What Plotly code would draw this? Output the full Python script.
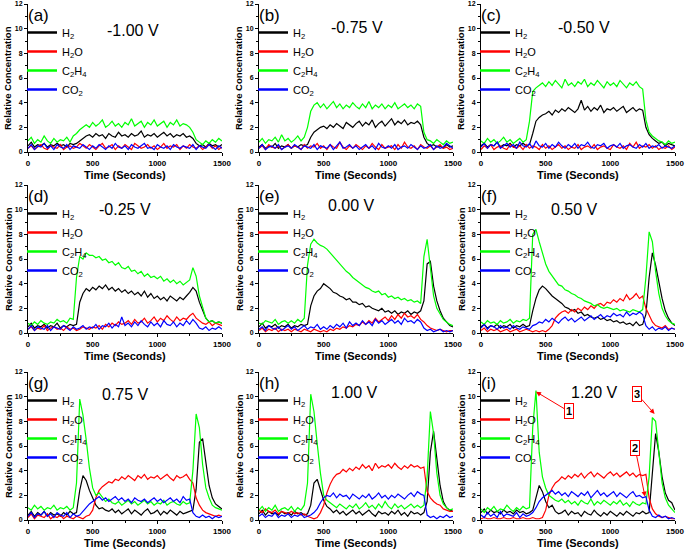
import numpy as np
import plotly.graph_objects as go

# ---------------- data (one sample per 25 s, 0..1500 s) -------------
T_MAX = 1500
PANEL_LETTERS = ["(a)", "(b)", "(c)", "(d)", "(e)", "(f)", "(g)", "(h)", "(i)"]
VOLTAGES = ["-1.00 V", "-0.75 V", "-0.50 V", "-0.25 V", "0.00 V", "0.50 V", "0.75 V", "1.00 V", "1.20 V"]
SPECIES = ["H<sub>2</sub>", "H<sub>2</sub>O", "C<sub>2</sub>H<sub>4</sub>", "CO<sub>2</sub>"]
X_TICKS = [0, 500, 1000, 1500]
Y_TICKS = [0, 2, 4, 6, 8, 10, 12]

# (a) -1.00 V
H2_a = [0.5,0.8,0.4,0.6,0.5,0.7,0.4,0.6,0.5,0.7,
        0.5,0.6,0.4,0.7,0.6,0.7,0.9,1.1,1.3,1.4,
        1.2,1.5,1.3,1.4,1.1,1.5,1.3,1.2,1.6,1.3,
        1.4,1.2,1.5,1.3,1.4,1.7,1.2,1.4,1.3,1.5,
        1.2,1.4,1.6,1.3,1.5,1.2,1.4,1.3,1.5,1.2,
        1.3,1.1,0.7,0.5,0.6,0.4,0.7,0.5,0.6,0.4,
        0.6]
H2O_a = [0.3,0.5,0.2,0.4,0.6,0.3,0.2,0.5,0.4,0.3,
         0.6,0.2,0.4,0.5,0.3,0.4,0.7,0.5,0.3,0.6,
         0.4,0.2,0.5,0.7,0.3,0.4,0.6,0.2,0.5,0.3,
         0.6,0.4,0.2,0.7,0.5,0.3,0.4,0.6,0.3,0.5,
         0.2,0.4,0.7,0.3,0.5,0.4,0.6,0.2,0.5,0.3,
         0.6,0.4,0.3,0.5,0.2,0.4,0.6,0.3,0.5,0.2,
         0.4]
C2H4_a = [0.9,1.2,0.7,1.0,0.8,1.3,0.9,0.7,1.1,0.8,
          1.0,0.9,1.2,0.8,1.3,1.5,1.8,2.0,2.2,2.0,
          2.4,2.1,2.3,2.6,2.0,2.2,2.5,2.1,2.3,2.0,
          2.4,2.2,2.7,2.1,2.3,2.5,2.0,2.4,2.2,2.6,
          2.1,2.3,2.5,2.0,2.4,2.2,2.6,2.1,2.3,2.2,
          2.0,1.6,1.0,0.8,0.6,0.9,0.7,1.0,0.8,1.1,
          0.9]
CO2_a = [0.3,0.6,0.2,0.5,0.4,0.7,0.3,0.5,0.2,0.6,
         0.4,0.3,0.6,0.2,0.5,0.4,0.3,0.6,0.4,0.2,
         0.5,0.3,0.6,0.4,0.2,0.5,0.3,0.7,0.4,0.3,
         0.5,0.2,0.6,0.4,0.3,0.5,0.7,0.3,0.4,0.2,
         0.6,0.4,0.3,0.5,0.2,0.6,0.4,0.3,0.5,0.4,
         0.3,0.6,0.2,0.5,0.4,0.3,0.6,0.4,0.2,0.5,
         0.3]

# (b) -0.75 V
H2_b = [0.4,0.6,0.3,0.5,0.4,0.7,0.3,0.5,0.4,0.6,
        0.3,0.5,0.4,0.6,0.5,0.6,1.2,1.6,1.8,2.0,
        2.1,1.9,2.2,2.0,2.3,2.1,1.9,2.4,2.2,2.0,
        2.3,2.5,2.1,2.4,2.2,2.6,2.0,2.3,2.5,2.1,
        2.4,2.7,2.2,2.5,2.3,2.6,2.2,2.4,2.3,2.5,
        2.2,1.2,0.7,0.5,0.6,0.4,0.5,0.3,0.6,0.4,
        0.5]
H2O_b = [0.3,0.5,0.2,0.6,0.4,0.3,0.5,0.2,0.4,0.6,
         0.3,0.5,0.4,0.2,0.6,0.3,0.5,0.4,0.7,0.3,
         0.5,0.2,0.6,0.4,0.3,0.8,0.4,0.2,0.5,0.3,
         0.6,0.4,0.2,0.5,0.3,0.7,0.4,0.2,0.6,0.3,
         0.4,0.5,0.2,0.6,0.3,0.8,0.4,0.3,0.5,0.2,
         0.6,0.4,0.3,0.5,0.2,0.4,0.6,0.3,0.4,0.2,
         0.3]
C2H4_b = [0.8,1.1,0.7,1.0,0.9,1.2,0.8,1.4,0.9,1.1,
          0.8,1.0,1.3,0.9,1.2,2.0,3.3,3.8,4.0,3.6,
          3.9,3.5,3.8,4.1,3.6,3.9,3.5,3.8,3.6,4.0,
          3.7,3.5,3.9,3.6,4.1,3.5,3.8,3.6,3.9,3.5,
          3.8,3.6,4.0,3.5,3.7,3.9,3.6,3.8,3.5,3.9,
          3.7,1.6,1.0,0.9,0.7,1.0,0.8,0.6,0.9,0.7,
          0.8]
CO2_b = [0.3,0.6,0.2,0.4,0.5,0.3,0.6,0.2,0.4,0.5,
         0.3,0.6,0.4,0.2,0.5,0.4,0.3,0.6,0.2,0.5,
         0.4,0.3,0.6,0.2,0.5,0.8,0.3,0.4,0.6,0.3,
         0.5,0.2,0.4,0.6,0.3,0.5,0.2,0.7,0.4,0.3,
         0.5,0.3,0.6,0.2,0.4,0.5,0.3,0.6,0.4,0.2,
         0.5,0.3,0.4,0.6,0.2,0.5,0.3,0.4,0.7,0.5,
         0.3]

# (c) -0.50 V
H2_c = [0.5,0.7,0.4,0.6,0.5,0.8,0.4,0.6,0.5,0.7,
        0.4,0.6,0.5,0.7,0.5,0.6,1.5,2.5,2.8,3.0,
        3.1,3.3,3.0,3.4,3.2,3.5,3.3,3.6,3.4,3.2,
        3.5,4.2,3.4,3.7,3.3,3.6,3.4,3.8,3.2,3.5,
        3.4,3.6,3.3,3.5,3.7,3.2,3.4,3.6,3.3,3.5,
        3.4,2.0,1.4,1.1,0.9,0.7,0.8,0.5,0.7,0.6,
        0.5]
H2O_c = [0.2,0.5,0.3,0.6,0.2,0.4,0.5,0.3,0.2,0.6,
         0.4,0.3,0.5,0.2,0.6,0.3,0.5,0.4,0.2,0.6,
         0.3,0.5,0.2,0.4,0.6,0.3,0.5,0.2,0.4,0.3,
         0.6,0.2,0.4,0.5,0.3,0.6,0.2,0.4,0.5,0.3,
         0.2,0.6,0.4,0.3,0.5,0.2,0.7,0.4,0.8,0.3,
         0.5,0.4,0.6,0.3,0.5,0.2,0.4,0.3,0.5,0.2,
         0.4]
C2H4_c = [0.9,0.7,1.1,0.8,1.0,0.7,0.9,1.2,0.8,1.0,
          0.7,0.9,1.1,0.8,1.0,2.5,4.9,5.2,5.4,5.6,
          5.3,5.7,5.4,5.8,5.5,5.2,5.9,5.4,5.6,5.3,
          5.7,5.5,5.9,5.3,5.6,5.4,5.8,5.5,5.2,5.7,
          5.4,5.6,5.3,5.8,5.5,5.2,5.6,5.4,5.7,5.3,
          5.1,2.6,1.6,1.3,1.1,0.9,0.8,0.6,0.9,0.7,
          0.8]
CO2_c = [0.4,0.7,0.3,0.6,0.5,0.8,0.3,0.5,0.7,0.4,
         0.6,0.3,0.8,0.5,0.4,0.7,0.3,0.9,0.5,0.4,
         0.7,0.3,0.6,0.4,0.8,0.5,0.3,0.6,0.4,0.7,
         0.3,0.6,0.5,0.8,0.4,0.3,0.6,0.5,0.7,0.3,
         0.5,0.6,0.4,0.7,0.3,0.5,0.6,0.4,0.3,0.6,
         0.4,0.7,0.3,0.5,0.4,0.6,0.3,0.5,0.4,0.3,
         0.5]

# (d) -0.25 V
H2_d = [0.5,0.8,0.4,0.6,0.5,0.7,0.4,0.6,0.5,0.8,
        0.4,0.6,0.5,0.7,0.6,0.7,2.5,3.2,3.6,3.4,
        3.7,3.5,3.8,3.6,3.9,3.5,3.7,3.4,3.6,3.3,
        3.5,3.2,3.4,3.1,3.3,3.0,3.4,2.9,3.2,2.8,
        3.0,2.7,2.9,2.6,3.0,2.8,2.6,2.9,2.7,3.0,
        3.3,3.7,3.4,2.5,1.8,1.2,0.9,1.0,0.8,0.9,
        0.8]
H2O_d = [0.3,0.5,0.2,0.4,0.3,0.6,0.2,0.4,0.5,0.3,
         0.4,0.2,0.5,0.3,0.4,0.2,0.3,0.5,0.4,0.3,
         0.5,0.4,0.6,0.3,0.7,0.5,0.8,0.6,0.9,0.7,
         0.8,1.0,0.7,1.1,0.8,0.9,1.2,0.8,1.0,1.3,
         0.9,1.2,1.0,1.4,1.1,0.9,1.3,1.0,1.2,1.1,
         1.4,1.6,1.2,1.0,0.8,0.7,0.9,0.6,0.8,0.7,
         0.6]
C2H4_d = [0.8,0.6,0.9,0.7,1.0,0.8,0.7,0.9,0.8,1.1,
          0.9,1.0,0.8,1.2,1.1,4.5,6.2,6.0,6.5,6.3,
          6.3,6.1,6.2,5.9,6.0,5.7,5.8,5.5,5.7,5.3,
          5.2,5.4,5.0,5.1,4.8,5.0,4.6,4.8,4.5,4.6,
          4.4,4.6,4.2,4.4,4.1,4.3,4.0,4.2,3.9,4.1,
          4.3,5.3,4.6,3.0,2.0,1.2,0.9,1.0,0.8,0.9,
          0.8]
CO2_d = [0.3,0.6,0.2,0.5,0.4,0.3,0.6,0.2,0.5,0.4,
         0.3,0.6,0.4,0.2,0.5,0.3,0.4,0.6,0.3,0.5,
         0.4,0.7,0.3,0.6,0.5,0.8,0.4,0.7,0.5,1.3,
         0.6,0.8,0.5,0.9,0.6,1.0,0.7,0.5,0.9,0.6,
         0.8,0.5,1.0,0.7,0.6,0.9,0.5,0.8,0.6,1.0,
         0.7,1.1,0.8,0.4,0.3,0.5,0.2,0.4,0.3,0.5,
         0.3]

# (e) 0.00 V
H2_e = [0.5,0.8,0.4,0.6,0.5,0.7,0.4,0.6,0.5,0.7,
        0.4,0.6,0.5,0.7,0.6,0.7,2.2,3.0,3.4,3.6,
        4.0,3.8,3.6,3.3,3.2,3.0,2.9,2.7,2.8,2.5,
        2.5,2.3,2.4,2.1,2.2,2.0,1.9,1.8,2.0,1.7,
        1.8,1.6,1.8,1.5,1.7,1.6,1.8,1.5,1.7,1.6,
        1.8,2.6,5.6,5.8,3.8,2.6,1.8,1.2,0.9,0.6,
        0.5]
H2O_e = [0.2,0.4,0.1,0.3,0.2,0.4,0.1,0.3,0.2,0.3,
         0.1,0.3,0.2,0.1,0.3,0.2,0.1,0.3,0.2,0.1,
         0.2,0.1,0.3,0.2,0.4,0.3,0.5,0.4,0.6,0.5,
         0.7,0.6,0.9,0.7,1.0,0.8,1.2,0.9,1.1,1.3,
         1.0,1.4,1.1,1.5,1.2,1.6,1.3,1.4,1.2,1.5,
         1.1,0.9,0.6,0.4,0.3,0.2,0.3,0.2,0.1,0.2,
         0.2]
C2H4_e = [0.8,0.7,1.0,0.9,0.8,1.1,0.7,0.9,1.0,0.8,
          1.0,0.8,1.1,0.9,1.2,5.5,7.2,7.6,7.3,7.1,
          7.0,6.8,6.5,6.2,5.9,5.6,5.3,5.0,4.8,4.5,
          4.3,4.1,3.9,3.7,3.6,3.4,3.3,3.4,3.1,3.2,
          2.9,3.0,2.8,2.9,2.7,2.8,2.6,2.7,2.5,2.6,
          2.4,6.2,7.6,5.2,3.0,2.0,1.5,1.1,0.9,0.7,
          0.6]
CO2_e = [0.3,0.5,0.2,0.6,0.4,0.3,0.5,0.2,0.4,0.6,
         0.3,0.5,0.2,0.4,0.6,0.3,0.5,0.4,0.7,0.3,
         0.5,0.3,0.6,0.4,0.7,0.5,0.8,0.4,0.9,0.6,
         0.8,0.6,1.0,0.7,0.9,0.6,1.1,0.8,1.0,0.7,
         0.9,1.1,0.8,1.0,0.7,1.2,0.9,1.0,0.8,1.1,
         0.9,0.4,0.2,0.3,0.1,0.2,0.3,0.1,0.2,0.1,
         0.2]

# (f) 0.50 V
H2_f = [0.5,0.7,0.4,0.6,0.5,0.7,0.4,0.6,0.5,0.7,
        0.4,0.6,0.5,0.7,0.5,0.6,1.8,2.8,3.5,3.8,
        3.6,3.3,3.0,2.8,2.6,2.4,2.1,2.0,1.8,1.9,
        1.6,1.7,1.4,1.5,1.3,1.2,1.3,1.1,1.2,1.0,
        1.1,0.9,1.0,0.8,0.9,0.7,0.8,0.6,0.9,0.6,
        0.7,1.5,4.5,6.5,5.5,4.0,2.8,1.8,1.2,0.8,
        0.6]
H2O_f = [0.2,0.4,0.1,0.3,0.2,0.3,0.1,0.2,0.3,0.1,
         0.2,0.3,0.1,0.2,0.3,0.2,0.1,0.2,0.1,0.2,
         0.1,0.3,0.6,1.2,1.5,1.7,1.8,1.6,1.9,1.7,
         2.0,1.8,2.1,1.9,2.2,2.0,2.3,2.4,2.2,2.5,
         2.4,2.7,2.5,2.8,2.6,3.1,2.7,2.9,3.2,2.8,
         3.0,2.0,1.4,0.9,0.6,0.5,0.4,0.6,0.3,0.4,
         0.3]
C2H4_f = [0.9,0.7,1.0,0.8,0.9,0.7,1.0,0.8,0.9,1.1,
          0.8,1.0,0.9,1.1,1.0,1.2,8.0,8.4,7.4,6.5,
          5.6,5.0,4.6,4.2,3.9,3.8,3.5,3.4,3.2,3.1,
          2.9,2.8,2.6,2.5,2.4,2.2,2.3,2.1,2.0,2.1,
          2.0,1.9,2.0,1.8,1.9,1.8,1.7,1.9,1.8,1.7,
          1.9,4.5,8.2,7.4,5.0,3.2,2.0,1.4,1.0,0.8,
          0.7]
CO2_f = [0.4,0.7,0.3,0.6,0.5,0.3,0.6,0.4,0.5,0.3,
         0.6,0.4,0.3,0.5,0.4,0.3,0.6,0.7,0.9,0.8,
         1.1,0.9,1.2,1.0,0.8,1.1,1.3,1.0,1.2,0.9,
         1.1,1.3,1.0,1.2,1.4,1.1,1.3,1.5,1.2,1.4,
         1.3,1.6,1.4,1.5,1.3,1.7,1.4,1.6,1.5,1.7,
         1.5,0.6,0.3,0.5,0.2,0.4,0.3,0.5,0.2,0.4,
         0.3]

# (g) 0.75 V
H2_g = [0.4,0.7,0.3,0.6,0.4,0.7,0.3,0.6,0.4,0.5,
        0.3,0.6,0.4,0.7,0.5,0.6,2.4,3.6,3.2,2.4,
        1.8,1.2,0.9,1.0,0.8,0.7,0.9,0.6,0.8,0.5,
        0.7,0.9,0.5,0.8,0.6,0.4,0.7,0.9,0.5,0.6,
        0.8,0.4,0.7,0.5,0.8,0.6,0.4,0.7,0.5,0.6,
        0.7,0.8,2.5,6.3,6.6,4.5,2.8,1.8,1.3,1.1,
        0.9]
H2O_g = [0.2,0.5,0.1,0.4,0.3,0.2,0.5,0.1,0.3,0.2,
         0.4,0.1,0.3,0.2,0.1,0.3,0.2,0.1,0.3,0.4,
         0.8,1.8,2.4,2.7,2.9,3.1,3.0,3.3,3.2,3.5,
         3.3,3.6,3.4,3.2,3.6,3.4,3.7,3.3,3.5,3.4,
         3.6,3.3,3.5,3.7,3.4,3.2,3.6,3.4,3.5,3.7,
         3.3,3.0,1.8,1.2,0.8,0.6,0.5,0.4,0.3,0.4,
         0.3]
C2H4_g = [1.0,0.8,1.2,0.9,1.1,0.8,1.0,0.9,1.2,0.8,
          1.0,0.9,1.1,0.8,1.0,3.0,9.8,8.5,6.5,4.2,
          2.6,2.0,2.2,1.8,1.5,1.7,1.4,1.3,1.5,1.2,
          1.4,1.6,1.3,1.5,1.2,1.4,1.6,1.3,1.5,1.2,
          1.4,1.3,1.6,1.2,1.4,1.5,1.3,1.2,1.5,1.3,
          1.4,4.0,8.6,7.5,4.5,2.6,1.8,1.2,1.0,0.9,
          0.8]
CO2_g = [0.3,0.6,0.2,0.5,0.4,0.7,0.3,0.5,0.2,0.6,
         0.4,0.3,0.6,0.2,0.5,0.3,0.4,0.7,1.0,1.3,
         1.5,1.7,1.9,1.6,1.8,1.5,1.7,1.9,1.6,1.8,
         1.5,1.7,1.4,1.8,1.6,1.5,1.7,1.4,1.6,1.8,
         1.5,1.7,1.4,1.6,1.8,1.5,1.7,1.4,1.9,1.6,
         1.7,0.6,0.3,0.2,0.4,0.2,0.3,0.1,0.3,0.2,
         0.3]

# (h) 1.00 V
H2_h = [0.5,0.8,0.4,0.7,0.5,0.6,0.4,0.7,0.5,0.6,
        0.4,0.7,0.5,0.6,0.4,0.5,1.2,3.0,3.3,2.5,
        1.6,1.1,0.9,0.6,0.8,0.5,0.7,0.4,0.6,0.8,
        0.5,0.7,0.4,0.6,0.8,0.5,0.3,0.7,0.5,0.6,
        0.4,0.7,0.5,0.8,0.4,0.6,0.3,0.7,0.5,0.6,
        0.4,0.6,1.5,5.5,7.2,5.0,2.8,1.5,1.0,0.8,
        0.7]
H2O_h = [0.8,0.6,0.9,0.7,0.6,0.8,0.5,0.7,0.6,0.5,
         0.7,0.5,0.6,0.4,0.5,0.3,0.2,0.1,0.2,0.6,
         1.2,2.2,2.9,3.4,3.7,3.8,4.1,3.9,4.2,4.0,
         4.3,4.1,4.5,4.2,4.4,4.0,4.6,4.2,4.4,4.3,
         4.5,4.2,4.6,4.3,4.1,4.4,4.2,4.5,4.3,4.4,
         4.2,4.3,2.3,1.8,1.5,1.3,1.2,0.9,0.8,0.7,
         0.7]
C2H4_h = [0.8,1.1,0.7,1.0,0.8,1.2,0.7,0.9,1.0,0.8,
          1.1,0.7,1.0,0.8,1.2,3.0,10.2,8.8,6.2,3.8,
          2.0,1.6,1.4,1.2,1.0,1.3,1.1,0.9,1.2,1.0,
          1.3,0.9,1.1,1.4,1.0,1.2,0.9,1.3,1.0,1.5,
          1.1,0.9,1.3,1.0,1.2,0.9,1.1,1.3,1.0,1.2,
          1.0,1.2,3.5,8.8,7.0,3.8,2.0,1.3,1.0,0.8,
          0.9]
CO2_h = [0.3,0.5,0.2,0.4,0.3,0.6,0.2,0.4,0.3,0.5,
         0.2,0.4,0.3,0.5,0.2,0.3,0.4,0.6,0.9,1.4,
         1.8,2.0,1.9,2.2,1.8,2.1,1.9,2.0,1.7,2.1,
         1.9,1.7,2.0,1.8,2.1,1.7,1.9,2.2,1.8,2.0,
         1.7,2.0,1.8,2.1,1.9,1.7,2.0,2.2,1.9,2.3,
         2.1,2.0,0.4,0.2,0.3,0.1,0.3,0.2,0.4,0.2,
         0.3]

# (i) 1.20 V
H2_i = [0.6,0.9,0.5,0.8,0.6,0.7,0.5,0.8,0.6,0.7,
        0.5,0.8,0.6,0.7,0.5,0.6,0.8,1.8,2.8,2.3,
        1.5,1.0,1.2,0.7,0.5,0.6,0.8,0.4,0.7,0.5,
        0.6,0.3,0.7,0.5,0.4,0.8,0.5,0.3,0.6,0.4,
        0.7,0.5,0.3,0.6,0.4,0.7,0.5,0.3,0.6,0.5,
        0.7,0.5,0.6,3.5,7.0,5.5,3.5,2.2,1.6,1.4,
        0.8]
H2O_i = [0.1,0.2,0.1,0.1,0.2,0.1,0.1,0.2,0.1,0.1,
         0.2,0.1,0.1,0.2,0.1,0.1,0.2,0.1,0.1,0.2,
         0.8,2.0,2.6,3.0,3.2,3.5,3.3,3.6,3.4,3.7,
         3.5,3.8,3.4,3.7,3.9,3.5,3.8,3.6,3.4,3.7,
         3.9,3.6,3.8,3.5,3.7,3.9,3.6,3.8,3.5,3.7,
         3.6,3.7,1.8,0.9,0.5,0.3,0.2,0.3,0.2,0.1,
         0.1]
C2H4_i = [0.9,0.6,1.0,0.8,1.1,0.7,0.9,0.8,1.2,0.9,
          0.7,1.0,0.8,1.1,0.9,1.0,7.5,10.5,5.5,3.5,
          2.6,2.0,1.8,1.6,1.5,1.7,1.4,1.6,1.3,1.5,
          1.2,1.6,1.4,1.3,1.7,1.2,1.5,1.3,1.6,1.4,
          1.2,1.5,1.3,1.6,1.2,1.4,1.1,1.5,1.3,1.2,
          1.4,1.3,3.5,8.3,8.0,5.5,3.0,1.8,1.2,0.9,
          0.6]
CO2_i = [0.4,0.2,0.6,0.3,0.5,0.2,0.7,0.3,0.5,0.4,
         0.3,0.6,0.2,0.5,0.3,0.4,0.6,1.0,1.5,1.8,
         2.0,2.2,2.4,2.1,2.3,2.0,2.2,1.9,2.3,2.1,
         1.9,2.2,2.0,2.3,1.8,2.1,2.4,2.0,2.2,1.9,
         2.1,2.3,1.9,2.2,2.0,1.8,2.1,2.3,1.9,2.0,
         1.8,1.9,0.8,0.3,0.2,0.4,0.2,0.3,0.1,0.2,
         0.1]

PANEL_DATA = [
    (H2_a, H2O_a, C2H4_a, CO2_a), (H2_b, H2O_b, C2H4_b, CO2_b), (H2_c, H2O_c, C2H4_c, CO2_c),
    (H2_d, H2O_d, C2H4_d, CO2_d), (H2_e, H2O_e, C2H4_e, CO2_e), (H2_f, H2O_f, C2H4_f, CO2_f),
    (H2_g, H2O_g, C2H4_g, CO2_g), (H2_h, H2O_h, C2H4_h, CO2_h), (H2_i, H2O_i, C2H4_i, CO2_i),
]

# ---------------- layout geometry (pixels in a 685 x 551 page) ----------------
W, H = 685, 551
COLS = [(28, 222), (259, 453), (481, 675)]
ROWS = [(4, 152), (185, 333), (372, 520)]
VOLT_OFFSETS = [(105, 27), (98, 23), (103, 23), (97, 24), (92, 21), (93, 24), (98, 22), (95, 20), (113, 21)]
COLORS = ["#000000", "#ff0000", "#00ff00", "#0000ff"]
FONT = "Arial, Liberation Sans, sans-serif"


def px(x):
    return x / W


def py(y):
    return 1 - y / H


fig = go.Figure()
layout = dict(
    width=W, height=H, margin=dict(l=0, r=0, t=0, b=0, autoexpand=False),
    paper_bgcolor="white", plot_bgcolor="white", showlegend=True,
    font=dict(family=FONT, color="black"),
)
annotations = []

for k, series in enumerate(PANEL_DATA):
    n = k + 1
    r, c = divmod(k, 3)
    x0, x1 = COLS[c]
    y0, y1 = ROWS[r]
    xs = "" if n == 1 else str(n)
    leg = "legend" if n == 1 else f"legend{n}"
    for name, vals, col in zip(SPECIES, series, COLORS):
        t = np.linspace(0, T_MAX, len(vals))
        fig.add_trace(go.Scatter(
            x=t, y=vals, mode="lines", name=name, showlegend=False,
            line=dict(color=col, width=1.2),
            xaxis="x" + xs, yaxis="y" + xs, hoverinfo="skip",
        ))
    # legend entries (thicker key lines, no data)
    for name, col in zip(SPECIES, COLORS):
        fig.add_trace(go.Scatter(
            x=[None], y=[None], mode="lines", name=name, showlegend=True,
            line=dict(color=col, width=2.5),
            xaxis="x" + xs, yaxis="y" + xs, legend=leg, hoverinfo="skip",
        ))
    layout["xaxis" + xs] = dict(
        domain=[px(x0), px(x1)], anchor="y" + xs, range=[0, T_MAX], automargin=False,
        tickvals=X_TICKS, ticks="outside", ticklen=3, tickwidth=1, tickcolor="black",
        minor=dict(dtick=250, ticks="outside", ticklen=2, tickcolor="black"),
        showline=True, linecolor="black", linewidth=1, showgrid=False, zeroline=False,
        tickfont=dict(size=8, family=FONT, weight="bold"),
    )
    layout["yaxis" + xs] = dict(
        domain=[py(y1), py(y0)], anchor="x" + xs, range=[0, 12], automargin=False,
        tickvals=Y_TICKS, ticks="outside", ticklen=3, tickwidth=1, tickcolor="black",
        minor=dict(dtick=1, ticks="outside", ticklen=2, tickcolor="black"),
        showline=True, linecolor="black", linewidth=1, showgrid=False, zeroline=False,
        tickfont=dict(size=7, family=FONT, weight="bold"),
    )
    layout[leg] = dict(
        x=px(x0 - 6), y=py(y0 + 14), xanchor="left", yanchor="top",
        bgcolor="rgba(0,0,0,0)", font=dict(size=11, family=FONT, color="black"),
        itemwidth=30, tracegroupgap=0, traceorder="normal",
    )
    # panel letter and voltage
    dx, dy = VOLT_OFFSETS[k]
    annotations.append(dict(text=PANEL_LETTERS[k], x=px(x0 - 2), y=py(y0 + 11),
                            xref="paper", yref="paper", xanchor="left", yanchor="middle",
                            showarrow=False, font=dict(size=17, family=FONT)))
    annotations.append(dict(text=VOLTAGES[k], x=px(x0 + dx), y=py(y0 + dy),
                            xref="paper", yref="paper", xanchor="center", yanchor="middle",
                            showarrow=False, font=dict(size=16, family=FONT)))
    # axis titles
    annotations.append(dict(text="<b>Time (Seconds)</b>", x=px((x0 + x1) / 2), y=py(y1 + 23),
                            xref="paper", yref="paper", xanchor="center", yanchor="middle",
                            showarrow=False, font=dict(size=11, family=FONT)))
    annotations.append(dict(text="<b>Relative Concentration</b>", x=px(x0 - 20), y=py((y0 + y1) / 2),
                            xref="paper", yref="paper", xanchor="center", yanchor="middle",
                            textangle=-90, showarrow=False, font=dict(size=9.5, family=FONT)))

# numbered call-outs in panel (i)
callouts = [("1", 425, 10.4, 680, 8.8), ("2", 1268, 1.9, 1192, 5.8), ("3", 1342, 8.6, 1208, 10.2)]
for txt, hx, hy, tx, ty in callouts:
    annotations.append(dict(
        text=f"<b>{txt}</b>", x=hx, y=hy, xref="x9", yref="y9", ax=tx, ay=ty, axref="x9", ayref="y9",
        showarrow=True, arrowhead=2, arrowsize=1, arrowwidth=1, arrowcolor="#ff0000",
        bordercolor="#ff0000", borderwidth=1, borderpad=1, bgcolor="white",
        font=dict(size=11, family=FONT, color="black"),
    ))

layout["annotations"] = annotations
fig.update_layout(**layout)
fig.write_html(
    "out.html",
    config={"displayModeBar": False},
    post_script="document.body.style.margin='0px'; document.body.style.overflow='hidden';",
)
